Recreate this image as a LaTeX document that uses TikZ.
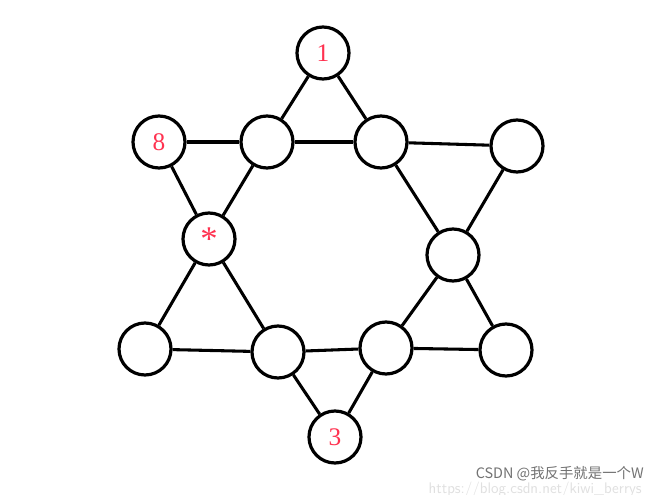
\documentclass[tikz,border=0pt]{standalone}
\usepackage{fontspec}
\setmainfont{Liberation Serif}
\newfontfamily\cjk{Noto Sans CJK SC}
\begin{document}
\begin{tikzpicture}[x=0.75pt,y=-0.75pt,
  vtx/.style={draw=black,line width=2.4pt,circle,minimum size=39pt,inner sep=0pt,text=numred,font=\fontsize{19}{19}\selectfont},
  edge/.style={line width=2.3pt,black}]
\definecolor{numred}{RGB}{255,50,80}
\useasboundingbox (0,0) rectangle (660,495);
\fill[white] (0,0) rectangle (660,495);
\node[vtx] (n1) at (323,53) {1};
\node[vtx] (n8) at (159,142) {8};
\node[vtx] (tl) at (267,142) {};
\node[vtx] (tr) at (381,142) {};
\node[vtx] (rt) at (517,146) {};
\node[vtx,font=\fontsize{26}{26}\selectfont] (st) at (209,239) {\raisebox{-4pt}{*}};
\node[vtx] (r) at (453,255) {};
\node[vtx] (bl) at (145,349) {};
\node[vtx] (ibl) at (278,352) {};
\node[vtx] (ibr) at (386,348) {};
\node[vtx] (br) at (506,350) {};
\node[vtx] (n3) at (335,437) {3};
\draw[edge] (n1) -- (tl);
\draw[edge] (n1) -- (tr);
\draw[edge] (n8) -- (tl);
\draw[edge] (tl) -- (tr);
\draw[edge] (tr) -- (rt);
\draw[edge] (n8) -- (st);
\draw[edge] (tl) -- (st);
\draw[edge] (rt) -- (r);
\draw[edge] (tr) -- (r);
\draw[edge] (st) -- (bl);
\draw[edge] (st) -- (ibl);
\draw[edge] (r) -- (ibr);
\draw[edge] (r) -- (br);
\draw[edge] (bl) -- (ibl);
\draw[edge] (ibl) -- (ibr);
\draw[edge] (ibr) -- (br);
\draw[edge] (ibl) -- (n3);
\draw[edge] (ibr) -- (n3);
\node[anchor=east,text=black!55,font=\cjk\fontsize{10.8}{11}\selectfont,inner sep=0pt] (wm) at (644,474) {CSDN @我反手就是一个W};
\node[anchor=east,text=black!12,font=\sffamily\fontsize{11.5}{11.5}\selectfont,inner sep=0pt] (url) at (642,490) {https://blog.csdn.net/kiwi\_berrys};
\end{tikzpicture}
\end{document}
